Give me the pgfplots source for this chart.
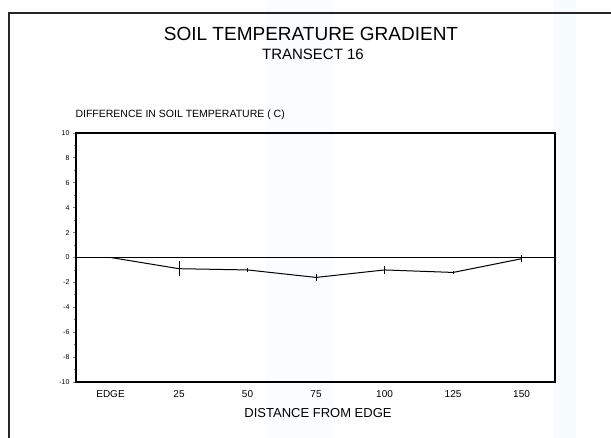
\documentclass[border=0pt]{standalone}
\usepackage{fontspec}
\setmainfont{Liberation Sans}
\usepackage{pgfplots}
\pgfplotsset{compat=1.18}

% soil temperature difference along transect 16
\pgfplotstableread{
x     y     e
0     0.0   0.0
25   -0.9   0.6
50   -1.0   0.15
75   -1.6   0.3
100  -1.0   0.3
125  -1.2   0.1
150  -0.1   0.3
}\transect

\begin{document}
\begin{tikzpicture}[x=1pt,y=1pt]
\path[use as bounding box] (0,0) rectangle (611,438);
% faint scan bands
\fill[cyan!2] (266,0) rectangle (334,438);
\fill[cyan!3] (553,0) rectangle (576,438);
% page frame
\draw[line width=1.3pt, black!85] (611,425) -- (9,425) -- (9,0);

\node[font=\fontsize{19}{21}\selectfont] at (311,404) {SOIL TEMPERATURE GRADIENT};
\node[font=\fontsize{15}{17}\selectfont] at (313,384) {TRANSECT 16};
\node[font=\fontsize{10.5}{12}\selectfont, anchor=base west] at (72,320)
  {DIFFERENCE IN SOIL TEMPERATURE ( C)};
\node[font=\fontsize{13}{15}\selectfont] at (318,25) {DISTANCE FROM EDGE};

\begin{axis}[
  at={(76pt,56pt)}, anchor=south west,
  scale only axis,
  width=479pt, height=249pt,
  xmin=-12.6, xmax=162.2,
  ymin=-10, ymax=10,
  xtick={0,25,50,75,100,125,150},
  xticklabels={EDGE,25,50,75,100,125,150},
  xticklabel style={font=\fontsize{10}{12}\selectfont, yshift=-2pt},
  ytick={-10,-8,...,10},
  minor y tick num=1,
  yticklabel style={font=\fontsize{7}{8}\selectfont},
  /pgf/number format/assume math mode=true,
  x tick style={draw=none},
  y tick style={line width=0.8pt},
  tick align=outside,
  tick pos=left,
  major tick length=3pt,
  minor tick length=2pt,
  axis line style={line width=1.7pt},
]
  \addplot[line width=1.3pt, black] coordinates {(-12.6,0) (162.2,0)};
  \addplot[line width=1pt, black, mark=none,
    error bars/.cd, y dir=both, y explicit,
    error mark=none, error bar style={line width=0.8pt}]
    table[x=x, y=y, y error=e] {\transect};
\end{axis}
\end{tikzpicture}
\end{document}
